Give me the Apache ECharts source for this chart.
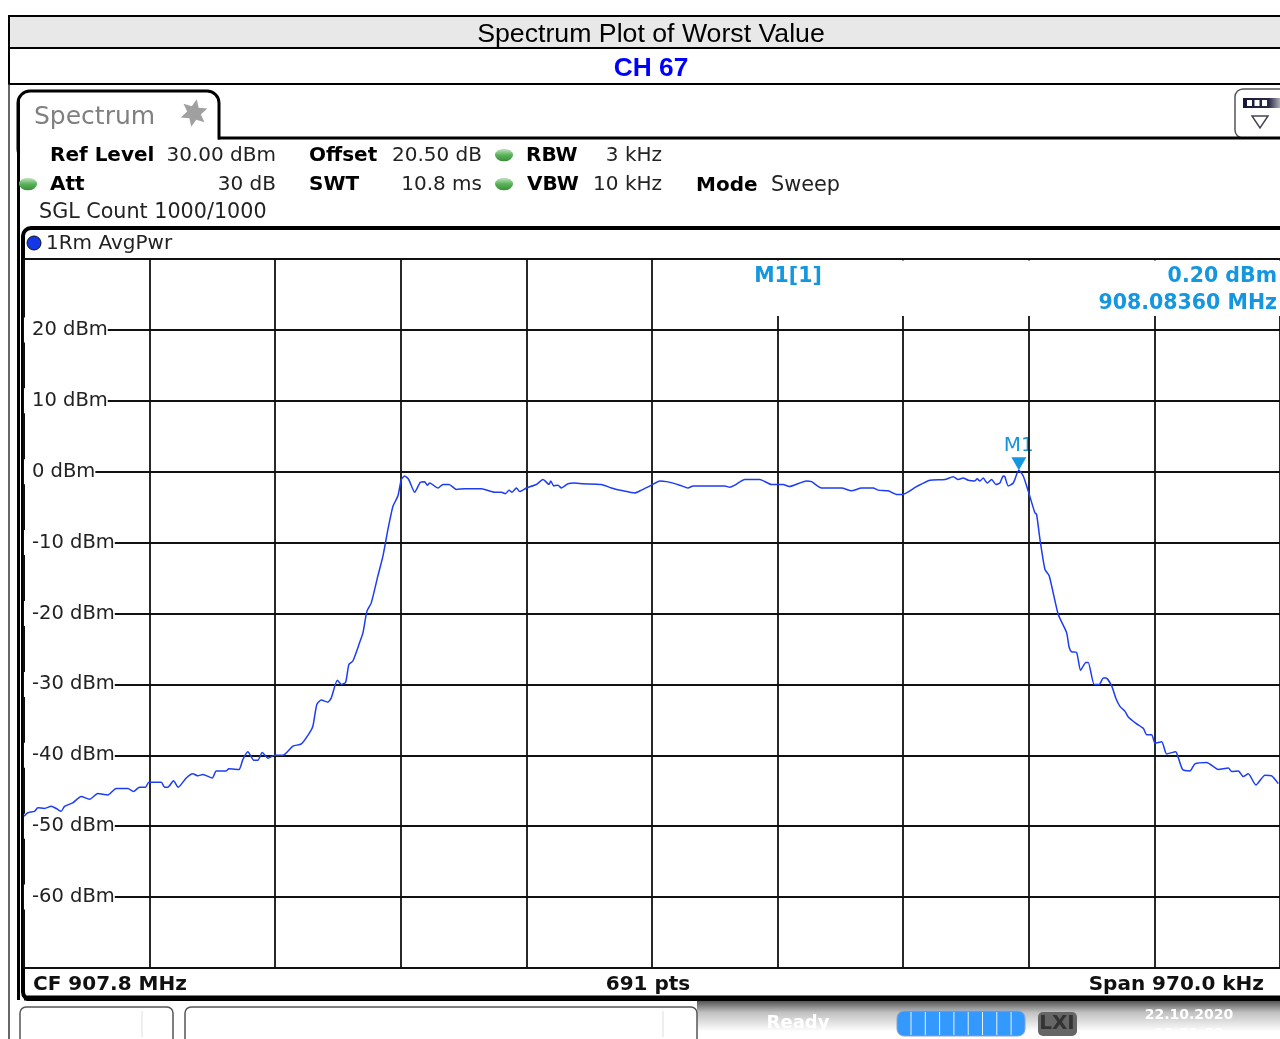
<!DOCTYPE html>
<html>
<head>
<meta charset="utf-8">
<style>
  html, body { margin: 0; padding: 0; background: #fff; }
  #chart { width: 1280px; height: 1039px; }
</style>
<script src="https://cdn.jsdelivr.net/npm/echarts@6/dist/echarts.min.js"></script>
</head>
<body>
<div id="chart"></div>
<script>
// offset from the left edge of the span (907.315 MHz), kHz
const freqKHz = [
  0, 2.9, 8.1, 10.7, 15.8, 21.0, 24.9, 28.7, 31.3, 37.7, 44.2, 50.6, 57.0, 64.7, 71.2, 80.2, 84.6, 89.2, 93.9, 96.4,
  106.0, 108.5, 111.1, 115.5, 119.1, 125.3, 130.4, 134.3, 138.1, 145.4, 148.5, 156.2, 158.2, 166.0, 169.0, 172.9, 177.5, 180.6, 184.0, 188.4,
  193.5, 199.9, 207.7, 214.2, 220.6, 223.1, 226.2, 229.6, 234.7, 237.3, 242.0, 245.1, 248.4, 250.9, 254.0, 259.2, 261.8, 264.8, 268.2, 273.3,
  277.2, 281.1, 284.9, 288.8, 291.4, 294.0, 297.1, 301.7, 306.1, 309.4, 311.5, 313.3, 319.7, 323.6, 328.2, 333.9, 340.3, 353.2, 363.5, 368.7,
  371.8, 374.6, 376.9, 380.3, 382.8, 388.0, 395.7, 400.8, 405.5, 406.8, 409.1, 412.4, 415.0, 420.1, 425.3, 431.7, 445.9, 453.7, 462.6, 471.7,
  476.8, 484.6, 491.0, 496.2, 506.4, 512.8, 516.7, 536.0, 541.2, 545.1, 548.9, 556.7, 568.2, 577.3, 586.2, 590.9, 604.3, 608.2, 615.9, 631.4,
  639.1, 646.8, 655.8, 659.7, 667.4, 673.9, 678.5, 689.3, 699.6, 711.2, 717.6, 721.5, 725.3, 729.2, 734.4, 736.1, 738.2, 740.8, 743.9, 747.3,
  750.6, 753.7, 756.2, 757.5, 760.1, 764.0, 768.3, 771.7, 775.5, 780.7, 782.0, 784.6, 788.5, 791.8, 798.7, 805.2, 807.2, 809.1, 812.9, 816.0,
  820.1, 821.9, 826.5, 830.4, 833.5, 835.6, 840.0, 843.3, 846.4, 850.3, 852.8, 858.8, 864.4, 867.1, 870.9, 873.5, 878.6, 882.5, 889.4, 891.4,
  894.8, 900.4, 904.3, 913.4, 922.3, 930.1, 932.7, 937.8, 941.6, 945.5, 951.4, 958.4, 963.6, 968.7
]
const levelDbm = [
  -48.6, -48.1, -47.9, -47.4, -47.5, -47.2, -47.5, -47.9, -47.2, -46.7, -45.8, -46.2, -45.4, -45.6, -44.7, -44.7, -45.1, -44.5, -44.5, -43.8,
  -43.8, -44.5, -44.5, -43.6, -44.5, -43.2, -42.6, -42.9, -42.7, -43.2, -42.2, -42.2, -41.9, -42.0, -40.6, -39.5, -40.7, -40.7, -39.6, -40.4,
  -40.0, -40.0, -38.7, -38.4, -36.8, -35.9, -32.8, -32.2, -32.5, -31.9, -29.4, -30.0, -29.7, -27.2, -26.7, -24.1, -22.7, -19.7, -18.5, -14.7,
  -11.9, -8.1, -4.9, -3.4, -1.1, -0.6, -1.1, -2.9, -1.5, -1.4, -1.9, -1.6, -2.3, -1.8, -1.8, -2.5, -2.4, -2.4, -2.9, -2.9,
  -3.1, -2.6, -2.9, -2.3, -2.8, -2.3, -1.8, -1.1, -1.8, -1.3, -2.0, -1.9, -2.3, -1.7, -1.6, -1.7, -1.8, -2.3, -2.7, -3.0,
  -2.6, -1.9, -1.3, -1.4, -1.9, -2.3, -2.0, -2.0, -2.0, -2.2, -1.9, -1.1, -1.1, -1.8, -1.8, -2.1, -1.3, -1.4, -2.3, -2.3,
  -2.7, -2.3, -2.3, -2.6, -2.7, -3.2, -3.2, -2.1, -1.2, -1.1, -0.7, -1.1, -0.9, -1.2, -1.3, -1.0, -1.3, -0.9, -1.6, -1.1,
  -1.8, -1.6, -0.6, -0.7, -2.0, -1.6, 0.2, -0.6, -2.7, -5.8, -6.0, -9.5, -13.8, -14.7, -20.1, -22.7, -24.8, -25.4, -25.5, -28.0,
  -26.9, -26.9, -30.0, -30.0, -29.1, -29.1, -30.2, -32.0, -33.1, -33.8, -34.6, -35.5, -36.2, -37.1, -37.1, -38.3, -38.1, -39.8, -39.5, -40.3,
  -42.0, -42.2, -41.2, -41.0, -42.0, -41.8, -42.3, -42.2, -43.0, -42.6, -44.2, -42.8, -42.9, -44.0
]
const markerFreq = 768.3
const markerLevel = 0.2
const spanKHz = 970
const divKHz = 97
const refLevel = 30
const bottomLevel = -70
const divDb = 10

const mono = '"DejaVu Sans"'
const markerBlue = '#1496e0'

const txt = (x, y, text, opt = {}) => ({
    type: 'text',
    x,
    y: y + 2,
    z: opt.z || 20,
    style: {
        text,
        fill: opt.fill || '#222',
        font: `${opt.weight || 'normal'} ${opt.size || 20}px ${opt.family || mono}`,
        textAlign: opt.align || 'left',
        textVerticalAlign: 'middle'
    }
})
const box = (x, y, width, height, fill, stroke, lineWidth, r, z) => ({
    type: 'rect',
    z: z || 5,
    shape: { x, y, width, height, r: r || 0 },
    style: { fill, stroke: stroke || null, lineWidth: lineWidth || 0 }
})
const ln = (x1, y1, x2, y2, lineWidth, stroke, z) => ({
    type: 'line',
    z: z || 6,
    shape: { x1, y1, x2, y2 },
    style: { stroke: stroke || '#000', lineWidth: lineWidth || 2 }
})
const led = (cx, cy, color) => ({
    type: 'circle',
    z: 20,
    scaleY: 0.7,
    originX: cx,
    originY: cy,
    shape: { cx, cy, r: 9 },
    style: {
        fill: new echarts.graphic.LinearGradient(0, 0, 0, 1, [
            { offset: 0, color: '#c8e4c8' },
            { offset: 0.5, color: color },
            { offset: 1, color: '#3c8c3c' }
        ])
    }
})
const star = (cx, cy, rOut, rIn) => {
    const points = []
    for (let i = 0; i < 12; i++) {
        const a = (i * Math.PI) / 6 + 0.2
        const r = i % 2 ? rIn : rOut
        points.push([cx + r * Math.sin(a), cy - r * Math.cos(a)])
    }
    return { type: 'polygon', z: 20, shape: { points }, style: { fill: '#a0a0a0' } }
}

const chrome = [
    // title rows
    box(9, 16, 1275, 32, '#e8e8e8', '#000', 2),
    box(9, 48, 1275, 36, '#fff', '#000', 2),
    ln(9, 84, 9, 1039, 1.5, '#333'),
    txt(651, 33, 'Spectrum Plot of Worst Value', { family: '"Liberation Sans"', size: 26.7, align: 'center', fill: '#000' }),
    txt(651, 67, 'CH 67', { family: '"Liberation Sans"', weight: 'bold', size: 26.3, align: 'center', fill: '#0000ff' }),
    // tab and settings block
    box(18, 91, 201, 70, '#fff', '#000', 3, 12),
    box(19.6, 139.6, 1262, 88, '#fff'),
    ln(218, 138, 1284, 138, 3),
    ln(18.5, 100, 18.5, 1000, 3),
    box(1235, 89, 60, 49, '#fff', '#555', 1.5, 8),
    {
        type: 'rect',
        z: 7,
        shape: { x: 1243, y: 98, width: 37, height: 10 },
        style: {
            fill: new echarts.graphic.LinearGradient(0, 0, 1, 0, [
                { offset: 0, color: '#16163c' },
                { offset: 0.7, color: '#2a2a48' },
                { offset: 1, color: '#b0b0b8' }
            ])
        }
    },
    box(1247, 100, 5, 6, '#fff', null, 0, 0, 8),
    box(1254.5, 100, 5, 6, '#fff', null, 0, 0, 8),
    box(1262, 100, 5, 6, '#fff', null, 0, 0, 8),
    { type: 'polygon', z: 8, shape: { points: [[1252, 116], [1268, 116], [1260, 128]] }, style: { fill: '#fff', stroke: '#445', lineWidth: 1.5 } },
    txt(34, 115, 'Spectrum', { size: 25, fill: '#808080' }),
    star(194, 113, 14, 7),
    txt(50, 154, 'Ref Level', { weight: 'bold', fill: '#000' }),
    txt(276, 154, '30.00 dBm', { align: 'right' }),
    txt(309, 154, 'Offset', { weight: 'bold', fill: '#000' }),
    txt(482, 154, '20.50 dB', { align: 'right' }),
    led(504, 155, '#58b458'),
    txt(526, 154, 'RBW', { weight: 'bold', fill: '#000' }),
    txt(662, 154, '3 kHz', { align: 'right' }),
    led(28, 184, '#58b458'),
    txt(50, 183, 'Att', { weight: 'bold', fill: '#000' }),
    txt(276, 183, '30 dB', { align: 'right' }),
    txt(309, 183, 'SWT', { weight: 'bold', fill: '#000' }),
    txt(482, 183, '10.8 ms', { align: 'right' }),
    led(504, 184, '#58b458'),
    txt(527, 183, 'VBW', { weight: 'bold', fill: '#000' }),
    txt(662, 183, '10 kHz', { align: 'right' }),
    txt(696, 184, 'Mode', { weight: 'bold', fill: '#000' }),
    txt(771, 184, 'Sweep', { size: 20.8 }),
    txt(39, 211, 'SGL Count 1000/1000', { size: 20.7 }),
    // trace panel
    box(23, 228, 1270, 772, '#fff', '#000', 4, 8),
    { type: 'circle', z: 20, shape: { cx: 34, cy: 243, r: 7 }, style: { fill: '#1438e8', stroke: '#111', lineWidth: 1 } },
    txt(46, 242, '1Rm AvgPwr'),
    // marker readout sits over the grid
    box(654, 260.5, 627, 55.5, '#fff', null, 0, 0, 9),
    txt(788, 275, 'M1[1]', { weight: 'bold', fill: markerBlue, align: 'center', size: 20.5 }),
    txt(1277, 275, '0.20 dBm', { weight: 'bold', fill: markerBlue, align: 'right', size: 20.5 }),
    txt(1277, 302, '908.08360 MHz', { weight: 'bold', fill: markerBlue, align: 'right', size: 20.5 }),
    // footer
    ln(24, 998, 1284, 998, 5),
    txt(33, 983, 'CF 907.8 MHz', { weight: 'bold', fill: '#111', size: 20 }),
    txt(648, 983, '691 pts', { weight: 'bold', fill: '#111', size: 20, align: 'center' }),
    txt(1264, 983, 'Span 970.0 kHz', { weight: 'bold', fill: '#111', size: 20, align: 'right' }),
    // status bar
    box(12, 1001, 1270, 38, '#fff', null, 0, 0, 10),
    {
        type: 'rect',
        z: 11,
        shape: { x: 697, y: 1001, width: 590, height: 38 },
        style: {
            fill: new echarts.graphic.LinearGradient(0, 0, 0, 1, [
                { offset: 0, color: '#555' },
                { offset: 0.3, color: '#c0c0c0' },
                { offset: 0.8, color: '#fff' },
                { offset: 1, color: '#fff' }
            ])
        }
    },
    box(20, 1007, 153, 40, '#fff', '#555', 1.5, 6, 12),
    box(185, 1007, 512, 40, '#fff', '#555', 1.5, 6, 12),
    ln(142, 1011, 142, 1037, 1, '#ddd', 13),
    ln(663, 1011, 663, 1037, 1, '#ddd', 13),
    txt(798, 1021, 'Ready', { weight: 'bold', fill: '#fff', size: 18, align: 'center' }),
    box(897, 1011, 128, 25, '#3399ff', '#8aa4c8', 1, 7, 20),
    box(1038, 1012, 39, 24, '#666', null, 0, 5, 20),
    txt(1057, 1022, 'LXI', { weight: 'bold', fill: '#333', size: 20, align: 'center', z: 21 }),
    txt(1189, 1013, '22.10.2020', { weight: 'bold', fill: '#fff', size: 14, align: 'center' }),
    txt(1189, 1032, '13:51:59', { weight: 'bold', fill: '#fff', size: 14, align: 'center' })
]
// progress bar segments
for (let x = 911; x < 1015; x += 14.3) chrome.push(ln(x, 1012, x, 1035, 1, '#e8f2ff', 21))

const chart = echarts.init(document.getElementById('chart'), null, { renderer: 'canvas' })
chart.setOption({
    animation: false,
    backgroundColor: '#fff',
    graphic: { elements: chrome },
    grid: { left: 24, right: 0, top: 259, bottom: 71, containLabel: false, z: 7 },
    xAxis: {
        type: 'value',
        min: 0,
        max: spanKHz,
        interval: divKHz,
        z: 7,
        axisLine: { show: false },
        axisTick: { show: false },
        axisLabel: { show: false },
        splitLine: { show: true, lineStyle: { color: '#111', width: 1.8 } }
    },
    yAxis: {
        type: 'value',
        min: bottomLevel,
        max: refLevel,
        interval: divDb,
        z: 7,
        axisLine: { show: false },
        axisTick: { show: false },
        splitLine: { show: true, lineStyle: { color: '#111', width: 1.8 } },
        axisLabel: {
            inside: true,
            margin: 0,
            color: '#222',
            fontFamily: mono,
            fontSize: 19.5,
            backgroundColor: '#fff',
            padding: [5, 0, 0, 8],
            showMinLabel: false,
            showMaxLabel: false,
            formatter: '{value} dBm'
        }
    },
    series: [{
        name: '1Rm AvgPwr',
        type: 'line',
        z: 8,
        silent: true,
        symbol: 'none',
        smooth: 0.2,
        clip: true,
        lineStyle: { color: '#1c3cf5', width: 1.5 },
        data: freqKHz.map((f, i) => [f, levelDbm[i]]),
        markPoint: {
            symbol: 'triangle',
            symbolSize: [15, 13],
            symbolRotate: 180,
            symbolOffset: [0, -6.5],
            itemStyle: { color: markerBlue },
            label: {
                show: true,
                position: 'top',
                distance: 1,
                formatter: 'M1',
                color: markerBlue,
                fontFamily: mono,
                fontSize: 20
            },
            data: [{ coord: [markerFreq, markerLevel] }]
        }
    }]
})
</script>
</body>
</html>
